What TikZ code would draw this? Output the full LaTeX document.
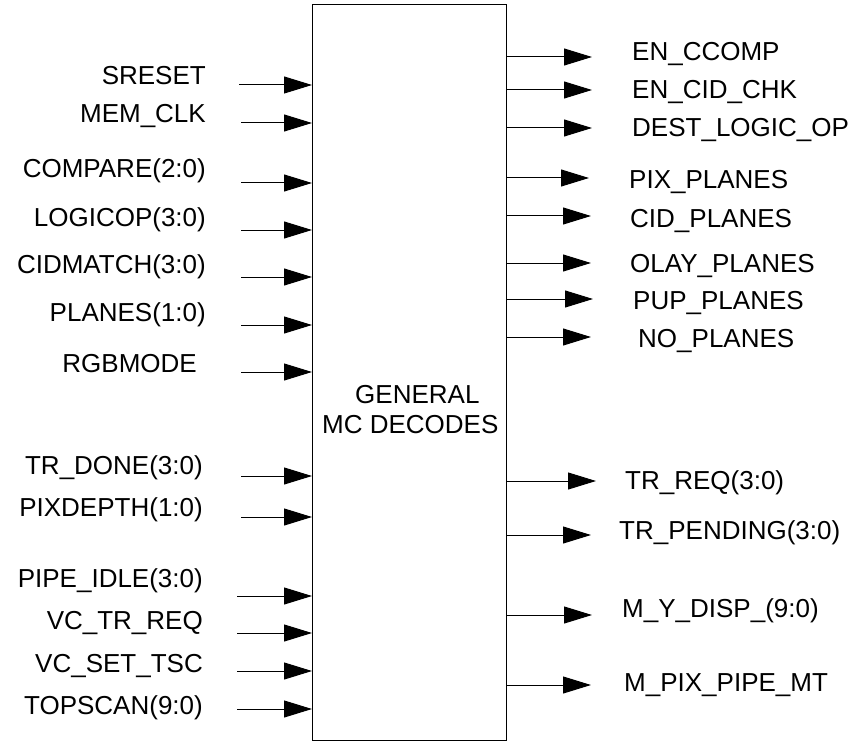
\documentclass[tikz,border=0pt]{standalone}
\usepackage{fontspec}
\setmainfont{Liberation Sans}
\usetikzlibrary{arrows.meta}
\begin{document}
\begin{tikzpicture}[x=1pt,y=-1pt,
  sig/.style={line width=1pt, -{Triangle[length=28pt,width=17pt]}},
  lbl/.style={font=\fontsize{26}{30}\selectfont, inner sep=0pt},
  blk/.style={draw, line width=1.3pt, minimum width=194pt, minimum height=736pt, inner sep=0pt, anchor=north west}]
\useasboundingbox (0,0) rectangle (858,743);
\node[blk] (box) at (312,4) {};
\node[lbl, anchor=base west] (title1) at (355,403) {GENERAL};
\node[lbl, anchor=base west] (title2) at (322,433) {MC DECODES};
% inputs
\foreach \n/\y/\x/\b/\r/\t in {
  sreset/85/239/85/206/SRESET,
  memclk/123/241/123/206/MEM\_CLK,
  compare/183/241/178/206/COMPARE(2:0),
  logicop/230/241/226/206/LOGICOP(3:0),
  cidmatch/277/241/273/206/CIDMATCH(3:0),
  planes/325/241/321/206/PLANES(1:0),
  rgbmode/372/241/372/197/RGBMODE,
  trdone/476/241/474/203/TR\_DONE(3:0),
  pixdepth/517/241/516/203/PIXDEPTH(1:0),
  pipeidle/596/237/587/203/PIPE\_IDLE(3:0),
  vctrreq/633/237/629/203/VC\_TR\_REQ,
  vcsettsc/671/237/672/203/VC\_SET\_TSC,
  topscan/709/237/714/203/TOPSCAN(9:0)} {
  \node[lbl, anchor=base east] (\n-l) at (\r,\b) {\t};
  \coordinate (\n-s) at (\x,\y);
  \draw[sig] (\n-s) -- (\n-s -| box.west);
}
% outputs
\foreach \n/\y/\x/\lx/\b/\t in {
  enccomp/57/592/632/61/EN\_CCOMP,
  encidchk/90/592/632/99/EN\_CID\_CHK,
  destlogic/128/592/632/137/DEST\_LOGIC\_OP,
  pixplanes/178/589/629/189/PIX\_PLANES,
  cidplanes/216/591/630/227/CID\_PLANES,
  olay/263/591/630/272/OLAY\_PLANES,
  pup/299/593/633/309/PUP\_PLANES,
  noplanes/337/591/638/347/NO\_PLANES,
  trreq/481/596/625/489/TR\_REQ(3:0),
  trpending/535/591/619/539/TR\_PENDING(3:0),
  mydisp/615/592/622/617/M\_Y\_DISP\_(9:0),
  mpix/685/591/624/691/M\_PIX\_PIPE\_MT} {
  \node[lbl, anchor=base west] (\n-l) at (\lx,\b) {\t};
  \coordinate (\n-e) at (\x,\y);
  \draw[sig] (\n-e -| box.east) -- (\n-e);
}
\end{tikzpicture}
\end{document}
